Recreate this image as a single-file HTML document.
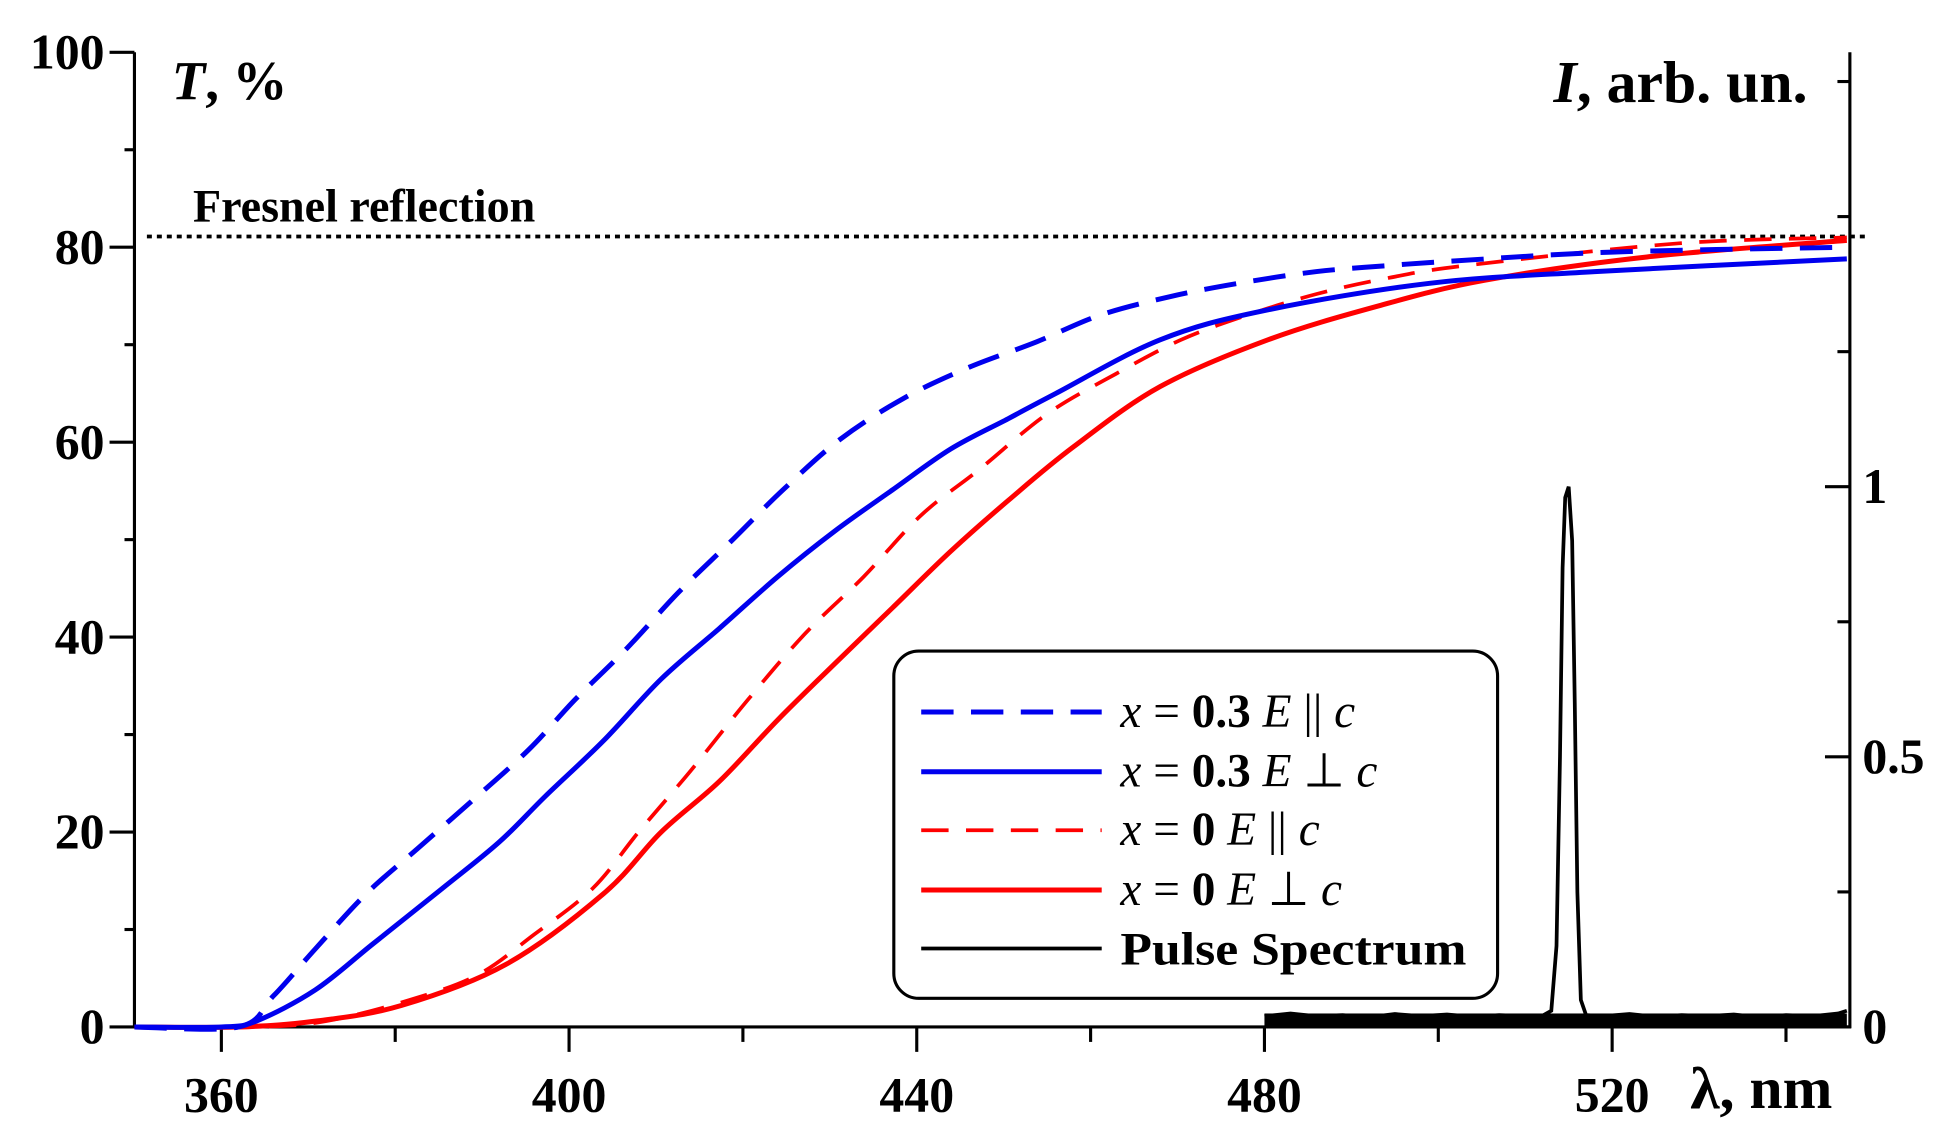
<!DOCTYPE html>
<html><head><meta charset="utf-8"><style>
html,body{margin:0;padding:0;background:#fff;}
svg{display:block;}
text{font-family:"Liberation Serif",serif;}
</style></head><body>
<svg id="chart" width="1942" height="1142" viewBox="0 0 1560 917.4" preserveAspectRatio="none" xmlns="http://www.w3.org/2000/svg">
<g id="axes"></g>
<g id="series"></g>
<text x="138" y="80" font-size="44" font-weight="bold" font-style="italic">T<tspan font-style="normal">, %</tspan></text>
<text x="1452" y="82" font-size="48" font-weight="bold" text-anchor="end"><tspan font-style="italic">I</tspan>, arb. un.</text>
<text x="1472" y="890" font-size="48" font-weight="bold" text-anchor="end">λ, nm</text>
<text x="155" y="178" font-size="37" font-weight="bold">Fresnel reflection</text>
<g>
<rect x="718" y="523" width="485" height="279" rx="20" fill="#fff" stroke="#000" stroke-width="2.5"/>
<line x1="740" y1="572" x2="885" y2="572" stroke="#0000ee" stroke-width="4" stroke-dasharray="26,14"/>
<text x="900" y="584" font-size="38"><tspan font-style="italic">x</tspan> = <tspan font-weight="bold">0.3</tspan> <tspan font-style="italic">E</tspan> || <tspan font-style="italic">c</tspan></text>
<line x1="740" y1="620" x2="885" y2="620" stroke="#0000ee" stroke-width="4"/>
<text x="900" y="632" font-size="38"><tspan font-style="italic">x</tspan> = <tspan font-weight="bold">0.3</tspan> <tspan font-style="italic">E</tspan> ⊥ <tspan font-style="italic">c</tspan></text>
<line x1="740" y1="667" x2="885" y2="667" stroke="#ff0000" stroke-width="3" stroke-dasharray="22,14"/>
<text x="900" y="679" font-size="38"><tspan font-style="italic">x</tspan> = <tspan font-weight="bold">0</tspan> <tspan font-style="italic">E</tspan> || <tspan font-style="italic">c</tspan></text>
<line x1="740" y1="715" x2="885" y2="715" stroke="#ff0000" stroke-width="4"/>
<text x="900" y="727" font-size="38"><tspan font-style="italic">x</tspan> = <tspan font-weight="bold">0</tspan> <tspan font-style="italic">E</tspan> ⊥ <tspan font-style="italic">c</tspan></text>
<line x1="740" y1="762" x2="885" y2="762" stroke="#000" stroke-width="3"/>
<text x="900" y="775" font-size="37" font-weight="bold" textLength="278" lengthAdjust="spacingAndGlyphs">Pulse Spectrum</text>
</g>
</svg>
<script>
const wlBlueDashed = [350,362,366,370.8,376.7,382.7,388.7,395.3,400.7,406.6,412.6,418.6,424.6,431.2,438.5,445.8,453.8,461,469,477,486,494,502,520,547];
const tBlueDashed  = [0,0,3.2,8,13.7,18.4,23.1,28.4,33.6,38.8,44.6,49.8,55.1,60.3,64.5,67.6,70.3,73,74.9,76.3,77.5,78.1,78.6,79.5,80];
const wlBlueSolid  = [350,360,364,370.8,377.4,385.4,392,397.3,404,410.6,417.3,424,430.6,437.2,443.9,450.5,456,468,480,499,518,547];
const tBlueSolid   = [0,0,0.6,3.8,8.5,14.2,19,23.7,29.4,35.7,40.9,46.2,50.9,55.1,59.3,62.4,65,70.5,73.5,76.3,77.5,78.8];
const wlRedDashed  = [350,364,372,381.4,389.4,396,402.7,408,414,420.6,427.2,433.9,440.5,447.2,455,462.9,470.4,477.9,486,494,503,527.7,547];
const tRedDashed   = [0,0,0.6,2.7,5.3,9.5,14.2,20,26.3,33.6,40.4,46.2,52.5,57.2,62.9,67,70.5,73,75.2,76.8,78.1,80.4,81];
const wlRedSolid   = [350,362,370.8,380.7,392.7,404,410.6,417.3,424,430.6,437.2,443.9,450.5,458,468,480.4,492.8,505.3,524,547];
const tRedSolid    = [0,0,0.6,2.2,6.4,13.7,20,25.2,31.5,37.3,43,48.8,54,59.5,65.7,70.5,73.9,76.6,79,80.7];
const pulseWl = [480,483,486,489,492,495,498,501,504,507,510,512,513,513.6,514,514.3,514.6,515,515.4,515.7,516,516.4,517,519,522,525,528,531,534,537,540,543,546,547];
const pulseI  = [0.02,0.025,0.02,0.022,0.018,0.024,0.02,0.023,0.019,0.022,0.02,0.021,0.03,0.15,0.5,0.85,0.98,1.0,0.9,0.6,0.25,0.05,0.022,0.02,0.024,0.019,0.022,0.02,0.023,0.018,0.022,0.02,0.025,0.03];
const T_FRESNEL = 81.1;
const xTicks = [360,400,440,480,520];
const yTicks = [0,20,40,60,80,100];
const rTicks = [0,0.5,1];

const NS="http://www.w3.org/2000/svg";
const X = v => 108 + (v-350)*6.9825;
const Y = v => 825 - v*7.83;
const YR = v => 825 - v*434;
const axes=document.getElementById('axes'), ser=document.getElementById('series');
function mk(tag, attrs, parent){const e=document.createElementNS(NS,tag);for(const k in attrs)e.setAttribute(k,attrs[k]);parent.appendChild(e);return e;}

let e;
e=mk('line',{x1:108,y1:42,x2:108,y2:826,stroke:'#000','stroke-width':2.5},axes);


e=mk('line',{x1:107,y1:825,x2:1487,y2:825,stroke:'#000','stroke-width':2.5},axes);


e=mk('line',{x1:1486,y1:42,x2:1486,y2:826,stroke:'#000','stroke-width':2.5},axes);


for(let v=360; v<=540; v+=20){
  const major = xTicks.includes(v);
  e=mk('line',{x1:X(v),y1:825,x2:X(v),y2:825+(major?20:12),stroke:'#000','stroke-width':2.5},axes);
  
  
}
xTicks.forEach(v=>{
  e=mk('text',{x:X(v),y:893,'font-size':40,'font-weight':'bold','text-anchor':'middle'},axes);
  e.textContent=v;
  
  
});
for(let v=0; v<=100; v+=10){
  const major = v%20===0;
  e=mk('line',{x1:108-(major?20:8),y1:Y(v),x2:108,y2:Y(v),stroke:'#000','stroke-width':2.5},axes);
  
  
}
yTicks.forEach(v=>{
  e=mk('text',{x:84,y:Y(v)+13,'font-size':40,'font-weight':'bold','text-anchor':'end'},axes);
  e.textContent=v;
  
  
});
for(let v=0; v<=1.75; v+=0.25){
  const major = rTicks.includes(v);
  e=mk('line',{x1:1486-(major?20:10),y1:YR(v),x2:1486,y2:YR(v),stroke:'#000','stroke-width':2.5},axes);
  
  
}
rTicks.forEach(v=>{
  e=mk('text',{x:1496,y:YR(v)+13,'font-size':40,'font-weight':'bold'},axes);
  e.textContent=v;
  
  
});
e=mk('line',{x1:118,y1:Y(T_FRESNEL),x2:1500,y2:Y(T_FRESNEL),stroke:'#000','stroke-width':3,'stroke-dasharray':'4,4'},axes);



function smooth(xs, ys){
  const p=xs.map((x,i)=>[X(x),Y(ys[i])]);
  let d=`M${p[0][0]},${p[0][1]}`;
  for(let i=0;i<p.length-1;i++){
    const p0=p[i-1]||p[i],p1=p[i],p2=p[i+1],p3=p[i+2]||p2;
    const c1=[p1[0]+(p2[0]-p0[0])/6,p1[1]+(p2[1]-p0[1])/6];
    const c2=[p2[0]-(p3[0]-p1[0])/6,p2[1]-(p3[1]-p1[1])/6];
    d+=` C${c1[0]},${c1[1]} ${c2[0]},${c2[1]} ${p2[0]},${p2[1]}`;
  }
  return d;
}
e=mk('path',{d:smooth(wlRedSolid,tRedSolid),fill:'none',stroke:'#ff0000','stroke-width':4},ser);


e=mk('path',{d:smooth(wlRedDashed,tRedDashed),fill:'none',stroke:'#ff0000','stroke-width':3,'stroke-dasharray':'22,14'},ser);


e=mk('path',{d:smooth(wlBlueSolid,tBlueSolid),fill:'none',stroke:'#0000ee','stroke-width':4},ser);


e=mk('path',{d:smooth(wlBlueDashed,tBlueDashed),fill:'none',stroke:'#0000ee','stroke-width':4,'stroke-dasharray':'26,14'},ser);


const pp=pulseWl.map((x,i)=>`${i?'L':'M'}${X(x)},${YR(pulseI[i])}`).join(' ');
e=mk('path',{d:pp,fill:'none',stroke:'#000','stroke-width':3},ser);


e=mk('rect',{x:X(480),y:YR(0.025),width:X(547)-X(480),height:YR(0)-YR(0.025),fill:'#000'},ser);


</script>
</body></html>
